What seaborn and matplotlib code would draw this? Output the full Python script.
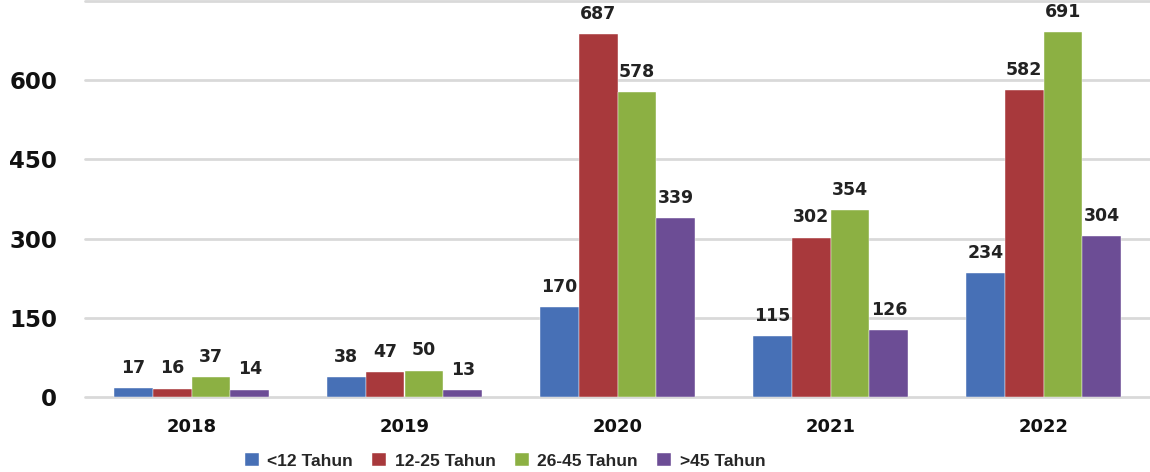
import numpy as np
import pandas as pd
import matplotlib
matplotlib.use("Agg")
import matplotlib.pyplot as plt
import seaborn as sns

years = ["2018", "2019", "2020", "2021", "2022"]
groups = ["<12 Tahun", "12-25 Tahun", "26-45 Tahun", ">45 Tahun"]
under_12 = [17, 38, 170, 115, 234]
age_12_25 = [16, 47, 687, 302, 582]
age_26_45 = [37, 50, 578, 354, 691]
over_45 = [14, 13, 339, 126, 304]
colors = ["#4770B6", "#A8393C", "#8CB043", "#6C4D95"]

series = [under_12, age_12_25, age_26_45, over_45]
df = pd.DataFrame([[y, g, v] for g, vals in zip(groups, series) for y, v in zip(years, vals)],
                  columns=["year", "group", "count"])

sns.set_style("white")
plt.rcParams["font.family"] = ["DejaVu Sans"]

fig = plt.figure(figsize=(11.5, 4.72), dpi=100)
ax = fig.add_axes([85 / 1150, 75 / 472, 1 - 85 / 1150, 396 / 472])

sns.barplot(data=df, x="year", y="count", hue="group", hue_order=groups,
            palette=colors, width=0.73, saturation=1, ax=ax,
            edgecolor="white", linewidth=0.3)

for cont in ax.containers:
    ax.bar_label(cont, padding=8, fontsize=12.5, fontweight="bold", color="#222222")

ax.set_ylim(0, 750)
ax.set_xlim(-0.5, 4.5)
ax.set_yticks([0, 150, 300, 450, 600, 750])
ax.set_yticklabels(["0", "150", "300", "450", "600", ""])
ax.yaxis.grid(True, color="#D9D9D9", linewidth=2)
for gl in ax.get_ygridlines():
    gl.set_clip_on(False)
ax.set_axisbelow(True)
for s in ax.spines.values():
    s.set_visible(False)
ax.tick_params(axis="y", length=0, pad=20, labelsize=16.5, labelcolor="#111111")
ax.tick_params(axis="x", length=0, pad=15, labelsize=13, labelcolor="#111111")
for lbl in ax.get_yticklabels() + ax.get_xticklabels():
    lbl.set_fontweight("bold")
ax.set_xlabel("")
ax.set_ylabel("")

ax.legend_.remove()
handles, labels = ax.get_legend_handles_labels()
fig.legend(handles, labels, loc="center", bbox_to_anchor=(505 / 1150, 1 - 461 / 472),
           ncol=4, frameon=False, handlelength=0.8, handleheight=0.8,
           columnspacing=1.1, handletextpad=0.5,
           prop={"family": "Liberation Sans", "size": 12.5, "weight": "bold"})

fig.savefig("out.png", dpi=100)
